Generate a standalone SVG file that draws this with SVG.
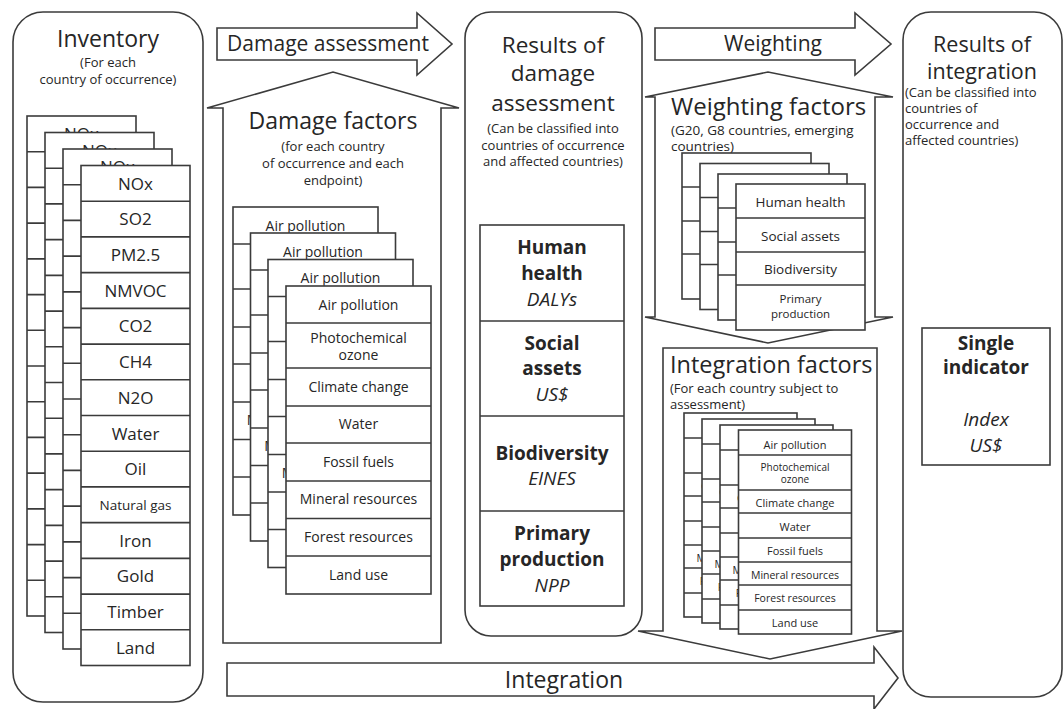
<svg xmlns="http://www.w3.org/2000/svg" width="1064" height="709" viewBox="0 0 1064 709">
<style>
.s{fill:#fff;stroke:#3b3b3b;stroke-width:1.6}
.r{fill:none;stroke:#3b3b3b;stroke-width:1.6}
text{font-family:"Open Sans","Liberation Sans",sans-serif;fill:#262626}
.c{text-anchor:middle}
.b{font-weight:bold}
.i{font-style:italic}
</style>
<defs>
<g id="invSheet">
<rect class="s" width="109" height="500"/>
<path class="r" d="M0 35.7H109M0 71.4H109M0 107.1H109M0 142.9H109M0 178.6H109M0 214.3H109M0 250H109M0 285.7H109M0 321.4H109M0 357.1H109M0 392.9H109M0 428.6H109M0 464.3H109"/>
<g class="c" font-size="17">
<text x="54.5" y="24">NOx</text>
<text x="54.5" y="59.7">SO2</text>
<text x="54.5" y="95.4">PM2.5</text>
<text x="54.5" y="131.1">NMVOC</text>
<text x="54.5" y="166.9">CO2</text>
<text x="54.5" y="202.6">CH4</text>
<text x="54.5" y="238.3">N2O</text>
<text x="54.5" y="274">Water</text>
<text x="54.5" y="309.7">Oil</text>
<text x="54.5" y="344" font-size="13.5">Natural gas</text>
<text x="54.5" y="381.1">Iron</text>
<text x="54.5" y="416.9">Gold</text>
<text x="54.5" y="452.6">Timber</text>
<text x="54.5" y="488.3">Land</text>
</g>
</g>
<g id="dfSheet">
<rect class="s" width="145" height="308"/>
<path class="r" d="M0 37H145M0 82H145M0 120H145M0 157H145M0 195H145M0 232.5H145M0 270H145"/>
<g class="c" font-size="14">
<text x="72.5" y="23.5">Air pollution</text>
<text x="72.5" y="57">Photochemical</text>
<text x="72.5" y="74">ozone</text>
<text x="72.5" y="106">Climate change</text>
<text x="72.5" y="143">Water</text>
<text x="72.5" y="181">Fossil fuels</text>
<text x="72.5" y="218">Mineral resources</text>
<text x="72.5" y="256">Forest resources</text>
<text x="72.5" y="294">Land use</text>
</g>
</g>
<g id="wSheet">
<rect class="s" width="129" height="146"/>
<path class="r" d="M0 34H129M0 68H129M0 101H129"/>
<g class="c" font-size="13.5">
<text x="64.5" y="23">Human health</text>
<text x="64.5" y="57">Social assets</text>
<text x="64.5" y="90">Biodiversity</text>
<text x="64.5" y="119" font-size="11.5">Primary</text>
<text x="64.5" y="134" font-size="11.5">production</text>
</g>
</g>
<g id="iSheet">
<rect class="s" width="113" height="204"/>
<path class="r" d="M0 25H113M0 60H113M0 83H113M0 108H113M0 132H113M0 155H113M0 180H113"/>
<g class="c" font-size="11">
<text x="56.5" y="19">Air pollution</text>
<text x="56.5" y="41" font-size="10">Photochemical</text>
<text x="56.5" y="53" font-size="10">ozone</text>
<text x="56.5" y="77">Climate change</text>
<text x="56.5" y="101">Water</text>
<text x="56.5" y="125">Fossil fuels</text>
<text x="56.5" y="149" font-size="10.5">Mineral resources</text>
<text x="56.5" y="172" font-size="10.5">Forest resources</text>
<text x="56.5" y="197">Land use</text>
</g>
</g>
</defs>
<rect width="1064" height="709" fill="#fff"/>

<g id="inventory">
<rect class="s" x="13" y="12" width="190" height="690" rx="30"/>
<text class="c" x="108" y="47" font-size="23">Inventory</text>
<text class="c" x="108" y="67" font-size="13">(For each</text>
<text class="c" x="108" y="84" font-size="13">country of occurrence)</text>
<use href="#invSheet" transform="translate(27,116)"/>
<use href="#invSheet" transform="translate(45,132.5)"/>
<use href="#invSheet" transform="translate(63,149)"/>
<use href="#invSheet" transform="translate(81,165.5)"/>
</g>

<g id="damage-factors">
<polygon class="s" points="223,643 223,108 207,108 333,72 459,108 441,108 441,643"/>
<text class="c" x="333" y="129" font-size="23">Damage factors</text>
<text class="c" x="333" y="151" font-size="13">(for each country</text>
<text class="c" x="333" y="168" font-size="13">of occurrence and each</text>
<text class="c" x="333" y="185" font-size="13">endpoint)</text>
<use href="#dfSheet" transform="translate(233,207)"/>
<use href="#dfSheet" transform="translate(250.5,233)"/>
<use href="#dfSheet" transform="translate(268,259.5)"/>
<use href="#dfSheet" transform="translate(286,286)"/>
</g>

<g id="results-damage">
<rect class="s" x="465" y="12" width="177" height="624" rx="26"/>
<text class="c" x="553" y="53" font-size="22.5">Results of</text>
<text class="c" x="553" y="81" font-size="22.5">damage</text>
<text class="c" x="553" y="111" font-size="22.5">assessment</text>
<text class="c" x="553" y="133" font-size="13">(Can be classified into</text>
<text class="c" x="553" y="150" font-size="13">countries of occurrence</text>
<text class="c" x="553" y="166" font-size="13">and affected countries)</text>
<rect class="s" x="480" y="225" width="144" height="381"/>
<path class="r" d="M480 321H624M480 416H624M480 511H624"/>
<g class="c" font-size="19">
<text class="b" x="552" y="254">Human</text>
<text class="b" x="552" y="280">health</text>
<text class="i" x="552" y="306">DALYs</text>
<text class="b" x="552" y="350">Social</text>
<text class="b" x="552" y="375">assets</text>
<text class="i" x="552" y="401">US$</text>
<text class="b" x="552" y="460">Biodiversity</text>
<text class="i" x="552" y="485">EINES</text>
<text class="b" x="552" y="540">Primary</text>
<text class="b" x="552" y="566">production</text>
<text class="i" x="552" y="592">NPP</text>
</g>
</g>

<g id="weighting-factors">
<polygon class="s" points="655,97 645,97 768,72 893,97 875,97 875,317 893,317 768,343 645,317 655,317"/>
<text x="671" y="115" font-size="24">Weighting factors</text>
<text x="671" y="135" font-size="13.5">(G20, G8 countries, emerging</text>
<text x="671" y="151" font-size="13.5">countries)</text>
<use href="#wSheet" transform="translate(682,153)"/>
<use href="#wSheet" transform="translate(700,163.5)"/>
<use href="#wSheet" transform="translate(718,174)"/>
<use href="#wSheet" transform="translate(736,184)"/>
</g>

<g id="integration-factors">
<polygon class="s" points="663,348 877,348 877,631 902,631 770,659 638,631 663,631"/>
<text x="670" y="373" font-size="23.5">Integration factors</text>
<text x="670" y="393" font-size="13">(For each country subject to</text>
<text x="670" y="409" font-size="13">assessment)</text>
<use href="#iSheet" transform="translate(684,413)"/>
<use href="#iSheet" transform="translate(702,419)"/>
<use href="#iSheet" transform="translate(720,425)"/>
<use href="#iSheet" transform="translate(738.5,430)"/>
</g>

<g id="results-integration">
<rect class="s" x="903" y="12" width="159" height="685" rx="28"/>
<text class="c" x="982" y="52" font-size="21.5">Results of</text>
<text class="c" x="982" y="79" font-size="21.5">integration</text>
<text x="905" y="97" font-size="13">(Can be classified into</text>
<text x="905" y="113" font-size="13">countries of</text>
<text x="905" y="129" font-size="13">occurrence and</text>
<text x="905" y="145" font-size="13">affected countries)</text>
<rect class="s" x="922" y="328" width="128" height="137"/>
<g class="c" font-size="19">
<text class="b" x="986" y="350">Single</text>
<text class="b" x="986" y="374">indicator</text>
<text class="i" x="986" y="426">Index</text>
<text class="i" x="986" y="452">US$</text>
</g>
</g>

<g id="connectors">
<g id="arrow-damage-assessment">
<polygon class="s" points="217,28 417,28 417,13 452,44 417,75 417,60 217,60"/>
<text class="c" x="328" y="51" font-size="21">Damage assessment</text>
</g>
<g id="arrow-weighting">
<polygon class="s" points="655,28 855,28 855,13 891,44 855,75 855,60 655,60"/>
<text class="c" x="773" y="51" font-size="21">Weighting</text>
</g>
<g id="arrow-integration">
<polygon class="s" points="227,663 874,663 874,647 898,678 874,709 874,696 227,696"/>
<text class="c" x="564" y="688" font-size="23">Integration</text>
</g>
</g>
</svg>
